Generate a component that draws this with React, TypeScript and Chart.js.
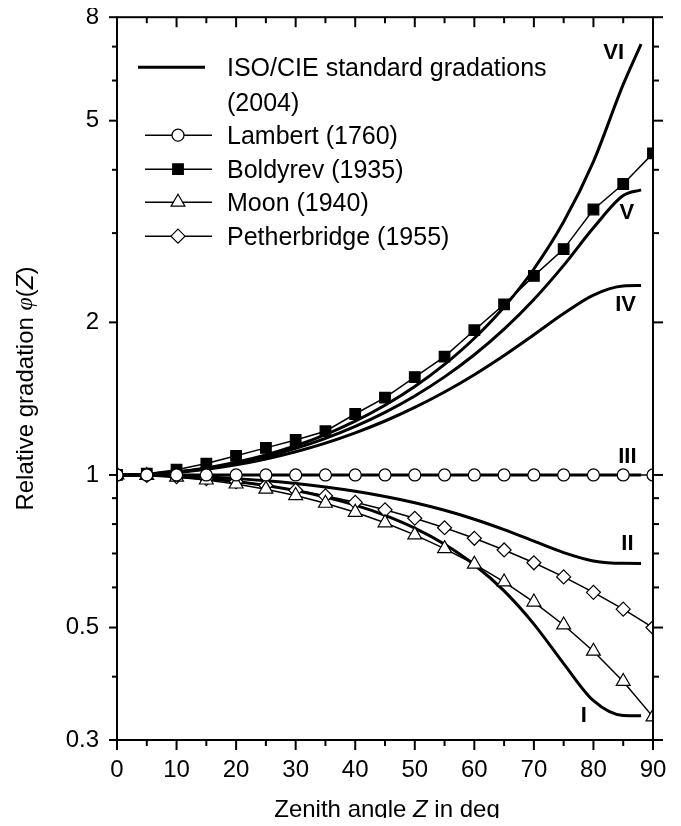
import React, { useEffect, useRef } from 'react';
import { Chart, registerables } from 'chart.js';

Chart.register(...registerables);

// ---------------- data ----------------
const zenithMarks = [0, 5, 10, 15, 20, 25, 30, 35, 40, 45, 50, 55, 60, 65, 70, 75, 80, 85, 90];
const zenithCurve = [0, 5, 10, 15, 20, 25, 30, 35, 40, 45, 50, 55, 60, 65, 70, 75, 80, 85, 88];

const gradationI = [1, 0.9982, 0.9929, 0.9838, 0.9708, 0.9536, 0.9317, 0.9048, 0.872, 0.8326, 0.7857, 0.7301, 0.6652, 0.5905, 0.5079, 0.4245, 0.3586, 0.3353, 0.3349];
const gradationII = [1, 0.999, 0.9959, 0.9908, 0.9835, 0.9737, 0.9615, 0.9465, 0.9283, 0.9067, 0.8813, 0.8517, 0.8179, 0.7801, 0.7402, 0.7027, 0.6766, 0.6693, 0.6692];
const gradationIII = [1, 1, 1, 1, 1, 1, 1, 1, 1, 1, 1, 1, 1, 1, 1, 1, 1, 1, 1];
const gradationIV = [1, 1.0029, 1.0115, 1.0262, 1.0473, 1.0754, 1.1112, 1.1559, 1.2109, 1.2778, 1.3592, 1.4577, 1.577, 1.7205, 1.8904, 2.0815, 2.2642, 2.3595, 2.3638];
const gradationV = [1, 1.0032, 1.0131, 1.0298, 1.0539, 1.0863, 1.1281, 1.1809, 1.2469, 1.3292, 1.432, 1.5614, 1.7262, 1.9391, 2.2189, 2.5911, 3.0733, 3.5587, 3.6512];
const gradationVI = [1, 1.0035, 1.0143, 1.0326, 1.0592, 1.0951, 1.1417, 1.2013, 1.2767, 1.3722, 1.4942, 1.6521, 1.8607, 2.145, 2.5489, 3.1578, 4.1528, 5.895, 7.0816];

const lambert = [1, 1, 1, 1, 1, 1, 1, 1, 1, 1, 1, 1, 1, 1, 1, 1, 1, 1, 1];
const boldyrev = [1, 1.006, 1.024, 1.053, 1.091, 1.131, 1.172, 1.22, 1.319, 1.421, 1.56, 1.712, 1.93, 2.17, 2.47, 2.79, 3.34, 3.75, 4.31];
const moon = [1, 0.9975, 0.9899, 0.9773, 0.9598, 0.9375, 0.9107, 0.8794, 0.844, 0.8047, 0.7619, 0.7157, 0.6667, 0.6151, 0.5614, 0.5059, 0.4491, 0.3914, 0.3333];
const petherbridge = [1, 0.9981, 0.9924, 0.983, 0.9698, 0.9532, 0.933, 0.9096, 0.883, 0.8536, 0.8214, 0.7868, 0.75, 0.7113, 0.671, 0.6294, 0.5868, 0.5436, 0.5];

const yTickValues = [0.3, 0.4, 0.5, 0.6, 0.7, 0.8, 0.9, 1, 2, 3, 4, 5, 6, 7, 8];
const yLabelValues = [0.3, 0.5, 1, 2, 5, 8];

const curveNames = ['I', 'II', 'III', 'IV', 'V', 'VI'];
const curveLabelZ = [78.4, 85.7, 85.7, 85.4, 85.6, 83.4];
const curveLabelPhi = [0.335, 0.732, 1.085, 2.16, 3.29, 6.81];

const legendTexts = [
  ['ISO/CIE standard gradations', '(2004)'],
  ['Lambert (1760)'],
  ['Boldyrev (1935)'],
  ['Moon (1940)'],
  ['Petherbridge (1955)'],
];
const legendMarkers = ['none', 'circle', 'square', 'triangle', 'diamond'];

const xTitleParts = [
  { t: 'Zenith angle ', italic: false },
  { t: 'Z', italic: true },
  { t: ' in deg', italic: false },
];
const yTitleParts = [
  { t: 'Relative gradation ', italic: false, serif: false },
  { t: 'φ', italic: true, serif: true },
  { t: '(', italic: false, serif: false },
  { t: 'Z', italic: true, serif: false },
  { t: ')', italic: false, serif: false },
];

const SANS = '"Liberation Sans", Arial, sans-serif';
const SERIF = '"Liberation Serif", "DejaVu Serif", serif';

const pts = (xs: number[], ys: number[]) => xs.map((x, i) => ({ x, y: ys[i] }));

function drawMarker(ctx: CanvasRenderingContext2D, kind: string, x: number, y: number) {
  ctx.save();
  ctx.lineWidth = 1.2;
  ctx.strokeStyle = '#000';
  ctx.fillStyle = kind === 'square' ? '#000' : '#fff';
  ctx.beginPath();
  if (kind === 'circle') {
    ctx.arc(x, y, 6, 0, Math.PI * 2);
  } else if (kind === 'square') {
    ctx.rect(x - 5.3, y - 5.3, 10.6, 10.6);
  } else if (kind === 'triangle') {
    const r = 8;
    ctx.moveTo(x, y - r);
    ctx.lineTo(x + r * 0.866, y + r / 2);
    ctx.lineTo(x - r * 0.866, y + r / 2);
    ctx.closePath();
  } else if (kind === 'diamond') {
    const r = 7;
    ctx.moveTo(x, y - r);
    ctx.lineTo(x + r, y);
    ctx.lineTo(x, y + r);
    ctx.lineTo(x - r, y);
    ctx.closePath();
  } else {
    ctx.restore();
    return;
  }
  ctx.fill();
  ctx.stroke();
  ctx.restore();
}

function drawParts(ctx: CanvasRenderingContext2D, parts: any[], cx: number, cy: number, size: number) {
  const fontOf = (p: any) => `${p.italic ? 'italic ' : ''}${size}px ${p.serif ? SERIF : SANS}`;
  let total = 0;
  const widths = parts.map((p) => {
    ctx.font = fontOf(p);
    const w = ctx.measureText(p.t).width;
    total += w;
    return w;
  });
  let x = cx - total / 2;
  ctx.textAlign = 'left';
  ctx.textBaseline = 'middle';
  parts.forEach((p, i) => {
    ctx.font = fontOf(p);
    ctx.fillText(p.t, x, cy);
    x += widths[i];
  });
}

const decorPlugin = {
  id: 'decor',
  afterDatasetsDraw(chart: any) {
    const { ctx, scales } = chart;
    const x = scales.x;
    const y = scales.y;
    ctx.save();
    ctx.fillStyle = '#000';
    ctx.font = `bold 22px ${SANS}`;
    ctx.textAlign = 'center';
    ctx.textBaseline = 'middle';
    curveNames.forEach((n, i) => {
      ctx.fillText(n, x.getPixelForValue(curveLabelZ[i]), y.getPixelForValue(curveLabelPhi[i]));
    });
    ctx.restore();
  },
  afterDraw(chart: any) {
    const { ctx, chartArea: a, scales } = chart;
    const x = scales.x;
    const y = scales.y;
    ctx.save();
    ctx.strokeStyle = '#000';
    ctx.lineWidth = 2;
    ctx.strokeRect(a.left, a.top, a.right - a.left, a.bottom - a.top);
    const seg = (x1: number, y1: number, x2: number, y2: number) => {
      ctx.beginPath();
      ctx.moveTo(x1, y1);
      ctx.lineTo(x2, y2);
      ctx.stroke();
    };
    x.ticks.forEach((t: any) => {
      const px = x.getPixelForValue(t.value);
      const len = t.value % 10 === 0 ? 10 : 6;
      seg(px, a.bottom, px, a.bottom + len);
      seg(px, a.top, px, a.top + len);
    });
    y.ticks.forEach((t: any) => {
      const py = y.getPixelForValue(t.value);
      const major = yLabelValues.includes(t.value);
      seg(a.left - (major ? 8 : 5), py, a.left, py);
      seg(a.right, py, a.right + (major ? 10 : 6), py);
    });

    // legend
    const rowY = [50, 118, 152, 185, 219];
    const textX = a.left + 110;
    legendTexts.forEach((lines, i) => {
      const yy = a.top + rowY[i];
      ctx.strokeStyle = '#000';
      if (legendMarkers[i] === 'none') {
        ctx.lineWidth = 3;
        seg(a.left + 21, yy, a.left + 88, yy);
      } else {
        ctx.lineWidth = 1.5;
        seg(a.left + 28, yy, a.left + 95, yy);
        drawMarker(ctx, legendMarkers[i], a.left + 61, yy);
      }
      ctx.fillStyle = '#000';
      ctx.font = `25px ${SANS}`;
      ctx.textAlign = 'left';
      ctx.textBaseline = 'middle';
      lines.forEach((ln, j) => ctx.fillText(ln, textX, yy + 2 + j * 35));
    });

    // axis titles
    ctx.fillStyle = '#000';
    drawParts(ctx, xTitleParts, (a.left + a.right) / 2 + 2, a.bottom + 70, 24);
    ctx.save();
    ctx.translate(a.left - 91, (a.top + a.bottom) / 2 + 10);
    ctx.rotate(-Math.PI / 2);
    drawParts(ctx, yTitleParts, 0, 0, 24);
    ctx.restore();
    ctx.restore();
  },
};

export default function App() {
  const ref = useRef<HTMLCanvasElement | null>(null);
  useEffect(() => {
    if (!ref.current) return;
    Chart.defaults.font.family = SANS;
    Chart.defaults.font.size = 24;
    Chart.defaults.color = '#000';

    const isoCurve = (vals: number[], label: string) => ({
      label,
      data: pts(zenithCurve, vals),
      borderColor: '#000',
      borderWidth: 3,
      pointRadius: 0,
      cubicInterpolationMode: 'monotone' as const,
      fill: false,
    });
    const markerSeries = (vals: number[], label: string, style: string, radius: number, bg: string) => ({
      label,
      data: pts(zenithMarks, vals),
      borderColor: '#000',
      borderWidth: 1.5,
      pointStyle: style,
      pointRadius: radius,
      pointBackgroundColor: bg,
      pointBorderColor: '#000',
      pointBorderWidth: 1.2,
      tension: 0,
      fill: false,
    });

    const chart = new Chart(ref.current, {
      type: 'line',
      data: {
        datasets: [
          markerSeries(lambert, 'Lambert (1760)', 'circle', 6, '#fff'),
          markerSeries(boldyrev, 'Boldyrev (1935)', 'rect', 7.5, '#000'),
          markerSeries(moon, 'Moon (1940)', 'triangle', 8, '#fff'),
          markerSeries(petherbridge, 'Petherbridge (1955)', 'rectRot', 7, '#fff'),
          isoCurve(gradationVI, 'VI'),
          isoCurve(gradationV, 'V'),
          isoCurve(gradationIV, 'IV'),
          isoCurve(gradationIII, 'III'),
          isoCurve(gradationII, 'II'),
          isoCurve(gradationI, 'I'),
        ] as any,
      },
      options: {
        responsive: false,
        animation: false,
        layout: { padding: { left: 0, right: 20, top: 6, bottom: 0 } },
        plugins: { legend: { display: false }, tooltip: { enabled: false } },
        scales: {
          x: {
            type: 'linear',
            position: 'bottom',
            min: 0,
            max: 90,
            grid: { display: false, drawTicks: false },
            border: { display: false },
            ticks: {
              stepSize: 5,
              autoSkip: false,
              maxRotation: 0,
              padding: 16,
              font: { size: 24 },
              callback: (v: any) => (Number(v) % 10 === 0 ? String(v) : ''),
            },
            afterFit: (s: any) => {
              s.height = 78;
              s.paddingLeft = 0;
              s.paddingRight = 0;
            },
          },
          y: {
            type: 'logarithmic',
            position: 'left',
            min: 0.3,
            max: 8,
            grid: { display: false, drawTicks: false },
            border: { display: false },
            afterBuildTicks: (s: any) => {
              s.ticks = yTickValues.map((v) => ({ value: v }));
            },
            ticks: {
              autoSkip: false,
              padding: 18,
              font: { size: 24 },
              callback: (v: any) => (yLabelValues.includes(Number(v)) ? String(v) : ''),
            },
            afterFit: (s: any) => {
              s.width = 109;
              s.paddingTop = 0;
              s.paddingBottom = 0;
            },
          },
        },
      } as any,
      plugins: [decorPlugin],
    });
    return () => chart.destroy();
  }, []);

  return (
    <div style={{ width: 665, height: 810 }}>
      <canvas ref={ref} width={665} height={810} />
    </div>
  );
}
